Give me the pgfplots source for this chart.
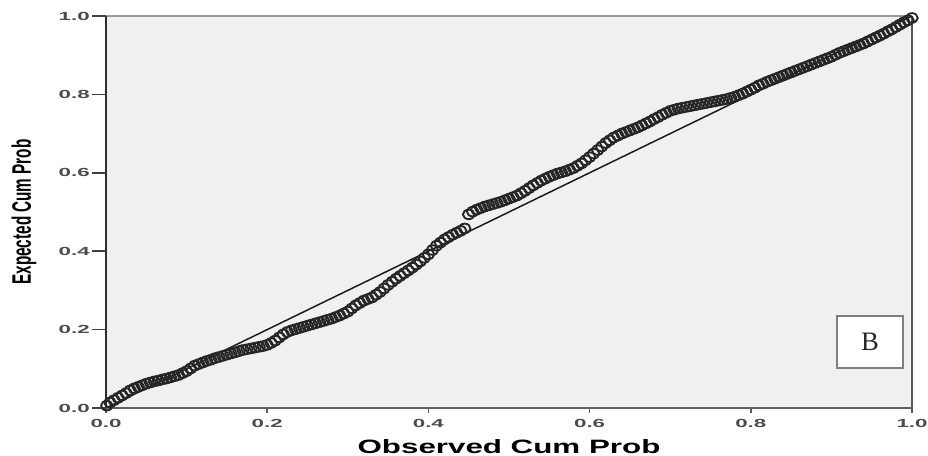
\documentclass[border=0pt]{standalone}
\usepackage{fontspec}
\setmainfont{Liberation Sans}
\newfontfamily\serifB{Liberation Serif}
\usepackage{graphicx}
\usepackage{pgfplots}
\pgfplotsset{compat=1.18}

\definecolor{panelgray}{RGB}{240,240,240}
\newcommand{\wide}[1]{\scalebox{1.9}[1]{#1}}

\begin{document}
\begin{tikzpicture}

\begin{axis}[
at={(0,0)}, anchor=south west,
scale only axis,
width=604.5pt, height=294pt,
xmin=0, xmax=1, ymin=0, ymax=1,
clip=false,
axis background/.style={fill=panelgray},
axis line style={draw=none},
tick align=outside,
tick pos=left,
major tick length=4pt,
xtick={0,0.2,0.4,0.6,0.8,1},
ytick={0,0.2,0.4,0.6,0.8,1},
xticklabels={\wide{0.0},\wide{0.2},\wide{0.4},\wide{0.6},\wide{0.8},\wide{1.0}},
yticklabels={\wide{0.0},\wide{0.2},\wide{0.4},\wide{0.6},\wide{0.8},\wide{1.0}},
xtick style={black!65, line width=1.1pt},
ytick style={draw=none},
tick label style={font=\fontsize{8.8}{10}\selectfont\bfseries, text=black!70},
yticklabel style={inner sep=0pt, xshift=-8pt},
xticklabel style={yshift=-1pt},
xlabel={\scalebox{1.62}[1]{\bfseries Observed Cum Prob}},
xlabel style={font=\fontsize{14.5}{15}\selectfont, at={(axis description cs:0.5,-0.098)}, anchor=center},
ylabel={\scalebox{1}[1.75]{\bfseries Expected Cum Prob}},
ylabel style={font=\fontsize{11.45}{12}\selectfont, at={(axis description cs:-0.1017,0.5)}, anchor=center, rotate=0},
]

% reference diagonal
\addplot [black!90, line width=1.1pt] coordinates {(0,0) (1,1)};

% observed vs expected cumulative probabilities
\addplot [only marks, mark=o, mark size=3.6pt, black!85, mark options={xscale=1.2, line width=1.4pt}]
table {%
0.001 0.006
0.005 0.014
0.010 0.020
0.015 0.026
0.020 0.032
0.025 0.038
0.030 0.045
0.035 0.050
0.040 0.054
0.045 0.058
0.050 0.062
0.055 0.065
0.060 0.068
0.065 0.070
0.070 0.073
0.075 0.075
0.080 0.078
0.085 0.081
0.090 0.084
0.095 0.089
0.100 0.094
0.105 0.101
0.110 0.108
0.115 0.112
0.120 0.116
0.125 0.120
0.130 0.123
0.135 0.127
0.140 0.130
0.145 0.133
0.150 0.136
0.155 0.139
0.160 0.142
0.165 0.145
0.170 0.148
0.175 0.150
0.180 0.152
0.185 0.154
0.190 0.156
0.195 0.158
0.200 0.161
0.205 0.166
0.210 0.172
0.215 0.180
0.220 0.188
0.225 0.194
0.230 0.198
0.235 0.201
0.240 0.204
0.245 0.207
0.250 0.210
0.255 0.213
0.260 0.216
0.265 0.219
0.270 0.222
0.275 0.225
0.280 0.228
0.285 0.232
0.290 0.236
0.295 0.241
0.300 0.246
0.305 0.254
0.310 0.262
0.315 0.268
0.320 0.274
0.325 0.278
0.330 0.282
0.335 0.289
0.340 0.296
0.345 0.305
0.350 0.314
0.355 0.322
0.360 0.330
0.365 0.337
0.370 0.344
0.375 0.351
0.380 0.358
0.385 0.366
0.390 0.374
0.395 0.383
0.400 0.392
0.405 0.403
0.410 0.414
0.415 0.422
0.420 0.430
0.425 0.436
0.430 0.442
0.435 0.447
0.440 0.452
0.445 0.458
0.450 0.494
0.455 0.501
0.460 0.506
0.465 0.510
0.470 0.514
0.475 0.517
0.480 0.520
0.485 0.523
0.490 0.526
0.495 0.530
0.500 0.534
0.505 0.538
0.510 0.542
0.515 0.548
0.520 0.554
0.525 0.561
0.530 0.568
0.535 0.574
0.540 0.580
0.545 0.585
0.550 0.590
0.555 0.594
0.560 0.598
0.565 0.601
0.570 0.604
0.575 0.608
0.580 0.612
0.585 0.618
0.590 0.624
0.595 0.632
0.600 0.640
0.605 0.649
0.610 0.658
0.615 0.667
0.620 0.676
0.625 0.683
0.630 0.690
0.635 0.695
0.640 0.700
0.645 0.704
0.650 0.708
0.655 0.712
0.660 0.716
0.665 0.721
0.670 0.726
0.675 0.731
0.680 0.737
0.685 0.742
0.690 0.748
0.695 0.753
0.700 0.758
0.705 0.761
0.710 0.764
0.715 0.766
0.720 0.768
0.725 0.770
0.730 0.772
0.735 0.774
0.740 0.776
0.745 0.778
0.750 0.780
0.755 0.782
0.760 0.784
0.765 0.786
0.770 0.788
0.775 0.791
0.780 0.794
0.785 0.798
0.790 0.802
0.795 0.807
0.800 0.812
0.805 0.817
0.810 0.823
0.815 0.827
0.820 0.832
0.825 0.836
0.830 0.840
0.835 0.844
0.840 0.848
0.845 0.852
0.850 0.856
0.855 0.860
0.860 0.864
0.865 0.868
0.870 0.872
0.875 0.876
0.880 0.880
0.885 0.884
0.890 0.888
0.895 0.892
0.900 0.896
0.905 0.901
0.910 0.906
0.915 0.910
0.920 0.914
0.925 0.918
0.930 0.922
0.935 0.926
0.940 0.930
0.945 0.935
0.950 0.940
0.955 0.945
0.960 0.950
0.965 0.955
0.970 0.961
0.975 0.966
0.980 0.972
0.985 0.978
0.990 0.984
0.995 0.989
1.000 0.995
};

% frame: dark left/bottom, lighter top/right
\draw [black!40, line width=1.2pt] (rel axis cs:0,1) -- (rel axis cs:1,1);
\draw [black!65, line width=1.8pt] (rel axis cs:1,0) -- (rel axis cs:1,1);
\draw [black!62, line width=1.5pt] (rel axis cs:0,0) -- (rel axis cs:1,0);
\draw [black!82, line width=2pt] (rel axis cs:0,0) -- (rel axis cs:0,1);

% long y ticks
\draw [black!75, line width=1.1pt] (rel axis cs:0,0) -- ++(-10.5pt,0);
\draw [black!75, line width=1.1pt] (rel axis cs:0,0.2) -- ++(-10.5pt,0);
\draw [black!75, line width=1.1pt] (rel axis cs:0,0.4) -- ++(-10.5pt,0);
\draw [black!75, line width=1.1pt] (rel axis cs:0,0.6) -- ++(-10.5pt,0);
\draw [black!75, line width=1.1pt] (rel axis cs:0,0.8) -- ++(-10.5pt,0);
\draw [black!75, line width=1.1pt] (rel axis cs:0,1) -- ++(-10.5pt,0);

% panel tag
\node [draw=black!50, line width=1.1pt, fill=white, minimum width=49.5pt, minimum height=39pt,
  font=\serifB\fontsize{20}{20}\selectfont, text=black!85] at (axis cs:0.948,0.168) {B};

\end{axis}

\pgfresetboundingbox
\path [use as bounding box] (-79.5pt,-36pt) rectangle (616.5pt,306pt);

\end{tikzpicture}
\end{document}
